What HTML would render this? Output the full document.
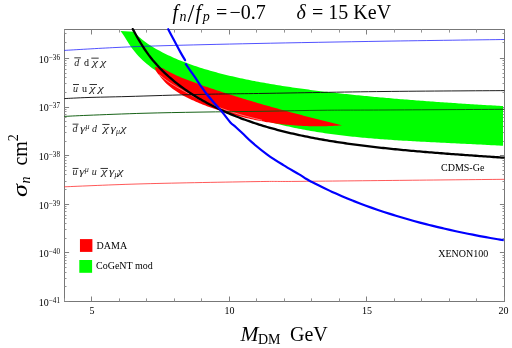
<!DOCTYPE html>
<html><head><meta charset="utf-8"><title>plot</title>
<style>
html,body{margin:0;padding:0;background:#fff;}
body{width:512px;height:348px;position:relative;overflow:hidden;font-family:"Liberation Serif",serif;}
</style></head><body>
<svg width="512" height="348" viewBox="0 0 512 348" style="position:absolute;left:0;top:0;will-change:transform">
<rect x="0" y="0" width="512" height="348" fill="#fff"/>
<g stroke="#777" stroke-width="1" fill="none" shape-rendering="auto">
<rect x="64.50" y="29.50" width="440.00" height="272.00"/>
</g>
<g stroke-width="1" fill="none">
<path stroke="#939393" d="M64.50 301.50 v-3.10 M64.50 29.50 v3.10"/>
<path stroke="#808080" d="M91.50 301.50 v-5.00 M91.50 29.50 v5.00"/>
<path stroke="#939393" d="M119.50 301.50 v-3.10 M119.50 29.50 v3.10"/>
<path stroke="#939393" d="M146.50 301.50 v-3.10 M146.50 29.50 v3.10"/>
<path stroke="#939393" d="M174.50 301.50 v-3.10 M174.50 29.50 v3.10"/>
<path stroke="#939393" d="M201.50 301.50 v-3.10 M201.50 29.50 v3.10"/>
<path stroke="#808080" d="M229.50 301.50 v-5.00 M229.50 29.50 v5.00"/>
<path stroke="#939393" d="M256.50 301.50 v-3.10 M256.50 29.50 v3.10"/>
<path stroke="#939393" d="M284.50 301.50 v-3.10 M284.50 29.50 v3.10"/>
<path stroke="#939393" d="M311.50 301.50 v-3.10 M311.50 29.50 v3.10"/>
<path stroke="#939393" d="M339.50 301.50 v-3.10 M339.50 29.50 v3.10"/>
<path stroke="#808080" d="M366.50 301.50 v-5.00 M366.50 29.50 v5.00"/>
<path stroke="#939393" d="M394.50 301.50 v-3.10 M394.50 29.50 v3.10"/>
<path stroke="#939393" d="M421.50 301.50 v-3.10 M421.50 29.50 v3.10"/>
<path stroke="#939393" d="M449.50 301.50 v-3.10 M449.50 29.50 v3.10"/>
<path stroke="#939393" d="M476.50 301.50 v-3.10 M476.50 29.50 v3.10"/>
<path stroke="#808080" d="M504.50 301.50 v-5.00 M504.50 29.50 v5.00"/>
<path stroke="#808080" d="M64.50 301.50 h4.60 M504.50 301.50 h-4.60"/>
<path stroke="#939393" d="M64.50 286.50 h2.00 M504.50 286.50 h-2.00"/>
<path stroke="#939393" d="M64.50 278.50 h2.00 M504.50 278.50 h-2.00"/>
<path stroke="#939393" d="M64.50 272.50 h2.00 M504.50 272.50 h-2.00"/>
<path stroke="#939393" d="M64.50 267.50 h2.00 M504.50 267.50 h-2.00"/>
<path stroke="#939393" d="M64.50 263.50 h2.00 M504.50 263.50 h-2.00"/>
<path stroke="#939393" d="M64.50 260.50 h2.00 M504.50 260.50 h-2.00"/>
<path stroke="#939393" d="M64.50 257.50 h2.00 M504.50 257.50 h-2.00"/>
<path stroke="#939393" d="M64.50 255.50 h2.00 M504.50 255.50 h-2.00"/>
<path stroke="#808080" d="M64.50 252.50 h4.60 M504.50 252.50 h-4.60"/>
<path stroke="#939393" d="M64.50 238.50 h2.00 M504.50 238.50 h-2.00"/>
<path stroke="#939393" d="M64.50 229.50 h2.00 M504.50 229.50 h-2.00"/>
<path stroke="#939393" d="M64.50 223.50 h2.00 M504.50 223.50 h-2.00"/>
<path stroke="#939393" d="M64.50 218.50 h2.00 M504.50 218.50 h-2.00"/>
<path stroke="#939393" d="M64.50 215.50 h2.00 M504.50 215.50 h-2.00"/>
<path stroke="#939393" d="M64.50 211.50 h2.00 M504.50 211.50 h-2.00"/>
<path stroke="#939393" d="M64.50 208.50 h2.00 M504.50 208.50 h-2.00"/>
<path stroke="#939393" d="M64.50 206.50 h2.00 M504.50 206.50 h-2.00"/>
<path stroke="#808080" d="M64.50 204.50 h4.60 M504.50 204.50 h-4.60"/>
<path stroke="#939393" d="M64.50 189.50 h2.00 M504.50 189.50 h-2.00"/>
<path stroke="#939393" d="M64.50 181.50 h2.00 M504.50 181.50 h-2.00"/>
<path stroke="#939393" d="M64.50 174.50 h2.00 M504.50 174.50 h-2.00"/>
<path stroke="#939393" d="M64.50 170.50 h2.00 M504.50 170.50 h-2.00"/>
<path stroke="#939393" d="M64.50 166.50 h2.00 M504.50 166.50 h-2.00"/>
<path stroke="#939393" d="M64.50 163.50 h2.00 M504.50 163.50 h-2.00"/>
<path stroke="#939393" d="M64.50 160.50 h2.00 M504.50 160.50 h-2.00"/>
<path stroke="#939393" d="M64.50 157.50 h2.00 M504.50 157.50 h-2.00"/>
<path stroke="#808080" d="M64.50 155.50 h4.60 M504.50 155.50 h-4.60"/>
<path stroke="#939393" d="M64.50 141.50 h2.00 M504.50 141.50 h-2.00"/>
<path stroke="#939393" d="M64.50 132.50 h2.00 M504.50 132.50 h-2.00"/>
<path stroke="#939393" d="M64.50 126.50 h2.00 M504.50 126.50 h-2.00"/>
<path stroke="#939393" d="M64.50 121.50 h2.00 M504.50 121.50 h-2.00"/>
<path stroke="#939393" d="M64.50 117.50 h2.00 M504.50 117.50 h-2.00"/>
<path stroke="#939393" d="M64.50 114.50 h2.00 M504.50 114.50 h-2.00"/>
<path stroke="#939393" d="M64.50 111.50 h2.00 M504.50 111.50 h-2.00"/>
<path stroke="#939393" d="M64.50 109.50 h2.00 M504.50 109.50 h-2.00"/>
<path stroke="#808080" d="M64.50 107.50 h4.60 M504.50 107.50 h-4.60"/>
<path stroke="#939393" d="M64.50 92.50 h2.00 M504.50 92.50 h-2.00"/>
<path stroke="#939393" d="M64.50 83.50 h2.00 M504.50 83.50 h-2.00"/>
<path stroke="#939393" d="M64.50 77.50 h2.00 M504.50 77.50 h-2.00"/>
<path stroke="#939393" d="M64.50 73.50 h2.00 M504.50 73.50 h-2.00"/>
<path stroke="#939393" d="M64.50 69.50 h2.00 M504.50 69.50 h-2.00"/>
<path stroke="#939393" d="M64.50 65.50 h2.00 M504.50 65.50 h-2.00"/>
<path stroke="#939393" d="M64.50 63.50 h2.00 M504.50 63.50 h-2.00"/>
<path stroke="#939393" d="M64.50 60.50 h2.00 M504.50 60.50 h-2.00"/>
<path stroke="#808080" d="M64.50 58.50 h4.60 M504.50 58.50 h-4.60"/>
<path stroke="#939393" d="M64.50 42.50 h2.00 M504.50 42.50 h-2.00"/>
<path stroke="#939393" d="M64.50 33.50 h2.00 M504.50 33.50 h-2.00"/>
</g>
<path d="M120.55 30.90 L134.00 31.66 L136.01 33.98 L138.01 35.99 L140.02 37.80 L142.02 39.47 L144.03 41.02 L146.03 42.49 L148.04 43.88 L150.04 45.21 L152.05 46.48 L154.05 47.71 L156.06 48.88 L158.07 50.02 L160.07 51.12 L162.08 52.18 L164.08 53.21 L166.09 54.21 L168.09 55.18 L170.10 56.12 L172.10 57.04 L174.11 57.93 L176.11 58.80 L178.12 59.64 L180.12 60.46 L182.13 61.26 L184.14 62.04 L186.14 62.80 L188.15 63.54 L190.15 64.27 L192.16 64.98 L194.16 65.67 L196.17 66.34 L198.17 67.00 L200.18 67.65 L202.18 68.28 L204.19 68.90 L206.20 69.50 L208.20 70.10 L210.21 70.68 L212.21 71.25 L214.22 71.80 L216.22 72.35 L218.23 72.88 L220.23 73.41 L222.24 73.92 L224.24 74.43 L226.25 74.92 L228.26 75.41 L230.26 75.89 L232.27 76.36 L234.27 76.82 L236.28 77.27 L238.28 77.72 L240.29 78.15 L242.29 78.58 L244.30 79.00 L246.30 79.42 L248.31 79.83 L250.32 80.23 L252.32 80.63 L254.33 81.01 L256.33 81.40 L258.34 81.77 L260.34 82.14 L262.35 82.51 L264.35 82.87 L266.36 83.22 L268.36 83.57 L270.37 83.92 L272.38 84.26 L274.38 84.59 L276.39 84.92 L278.39 85.24 L280.40 85.56 L282.40 85.88 L284.41 86.19 L286.41 86.50 L288.42 86.80 L290.42 87.10 L292.43 87.39 L294.43 87.68 L296.44 87.97 L298.45 88.25 L300.45 88.53 L302.46 88.81 L304.46 89.08 L306.47 89.35 L308.47 89.61 L310.48 89.88 L312.48 90.13 L314.49 90.39 L316.49 90.64 L318.50 90.89 L320.51 91.14 L322.51 91.38 L324.52 91.63 L326.52 91.86 L328.53 92.10 L330.53 92.33 L332.54 92.56 L334.54 92.79 L336.55 93.02 L338.55 93.24 L340.56 93.46 L342.57 93.68 L344.57 93.89 L346.58 94.11 L348.58 94.32 L350.59 94.53 L352.59 94.73 L354.60 94.94 L356.60 95.14 L358.61 95.34 L360.61 95.54 L362.62 95.74 L364.62 95.93 L366.63 96.12 L368.64 96.31 L370.64 96.50 L372.65 96.69 L374.65 96.88 L376.66 97.06 L378.66 97.24 L380.67 97.42 L382.67 97.60 L384.68 97.78 L386.68 97.95 L388.69 98.12 L390.70 98.30 L392.70 98.47 L394.71 98.64 L396.71 98.80 L398.72 98.97 L400.72 99.14 L402.73 99.30 L404.73 99.46 L406.74 99.62 L408.74 99.78 L410.75 99.94 L412.76 100.09 L414.76 100.25 L416.77 100.40 L418.77 100.56 L420.78 100.71 L422.78 100.86 L424.79 101.01 L426.79 101.16 L428.80 101.30 L430.80 101.45 L432.81 101.59 L434.82 101.74 L436.82 101.88 L438.83 102.02 L440.83 102.16 L442.84 102.30 L444.84 102.44 L446.85 102.58 L448.85 102.71 L450.86 102.85 L452.86 102.98 L454.87 103.11 L456.88 103.25 L458.88 103.38 L460.89 103.51 L462.89 103.64 L464.90 103.77 L466.90 103.90 L468.91 104.02 L470.91 104.15 L472.92 104.27 L474.92 104.40 L476.93 104.52 L478.93 104.65 L480.94 104.77 L482.95 104.89 L484.95 105.01 L486.96 105.13 L488.96 105.25 L490.97 105.37 L492.97 105.49 L494.98 105.60 L496.98 105.72 L498.99 105.83 L500.99 105.95 L503.00 106.06 L503.00 145.82 L501.00 145.71 L499.00 145.59 L496.99 145.48 L494.99 145.37 L492.99 145.26 L490.99 145.15 L488.98 145.04 L486.98 144.93 L484.98 144.83 L482.98 144.73 L480.97 144.62 L478.97 144.52 L476.97 144.42 L474.97 144.32 L472.96 144.22 L470.96 144.12 L468.96 144.02 L466.96 143.92 L464.96 143.82 L462.95 143.73 L460.95 143.63 L458.95 143.53 L456.95 143.44 L454.94 143.34 L452.94 143.24 L450.94 143.15 L448.94 143.05 L446.93 142.95 L444.93 142.86 L442.93 142.76 L440.93 142.66 L438.92 142.57 L436.92 142.47 L434.92 142.37 L432.92 142.27 L430.92 142.17 L428.91 142.07 L426.91 141.97 L424.91 141.86 L422.91 141.76 L420.90 141.65 L418.90 141.55 L416.90 141.44 L414.90 141.33 L412.89 141.22 L410.89 141.10 L408.89 140.99 L406.89 140.87 L404.88 140.76 L402.88 140.63 L400.88 140.51 L398.88 140.39 L396.88 140.26 L394.87 140.13 L392.87 140.00 L390.87 139.86 L388.87 139.73 L386.86 139.59 L384.86 139.44 L382.86 139.30 L380.86 139.15 L378.85 138.99 L376.85 138.84 L374.85 138.68 L372.85 138.51 L370.84 138.34 L368.84 138.17 L366.84 138.00 L364.84 137.82 L362.84 137.63 L360.83 137.45 L358.83 137.25 L356.83 137.06 L354.83 136.85 L352.82 136.65 L350.82 136.44 L348.82 136.22 L346.82 136.00 L344.81 135.77 L342.81 135.53 L340.81 135.29 L338.81 135.05 L336.80 134.80 L334.80 134.54 L332.80 134.28 L330.80 134.01 L328.80 133.73 L326.79 133.45 L324.79 133.16 L322.79 132.86 L320.79 132.56 L318.78 132.25 L316.78 131.93 L314.78 131.60 L312.78 131.27 L310.77 130.93 L308.77 130.58 L306.77 130.22 L304.77 129.85 L302.76 129.48 L300.76 129.10 L298.76 128.70 L296.76 128.30 L294.75 127.89 L292.75 127.47 L290.75 127.04 L288.75 126.61 L286.75 126.16 L284.74 125.70 L282.74 125.23 L280.74 124.76 L278.74 124.27 L276.73 123.77 L274.73 123.26 L272.73 122.74 L270.73 122.21 L268.72 121.67 L266.72 121.12 L264.72 120.55 L262.72 119.98 L260.71 119.39 L258.71 118.79 L256.71 118.18 L254.71 117.56 L252.71 116.93 L250.70 116.28 L248.70 115.63 L246.70 114.96 L244.70 114.27 L242.69 113.58 L240.69 112.87 L238.69 112.15 L236.69 111.42 L234.68 110.67 L232.68 109.92 L230.68 109.15 L228.68 108.36 L226.67 107.57 L224.67 106.76 L222.67 105.93 L220.67 105.10 L218.67 104.25 L216.66 103.39 L214.66 102.52 L212.66 101.63 L210.66 100.73 L208.65 99.82 L206.65 98.90 L204.65 97.96 L202.65 97.01 L200.64 96.04 L198.64 95.07 L196.64 94.08 L194.64 93.08 L192.63 92.07 L190.63 91.04 L188.63 90.00 L186.63 88.95 L184.63 87.89 L182.62 86.81 L180.62 85.72 L178.62 84.62 L176.62 83.50 L174.61 82.36 L172.61 81.21 L170.61 80.04 L168.61 78.86 L166.60 77.65 L164.60 76.42 L162.60 75.17 L160.60 73.89 L158.59 72.57 L156.59 71.22 L154.59 69.83 L152.59 68.39 L150.59 66.90 L148.58 65.34 L146.58 63.71 L144.58 61.99 L142.58 60.17 L140.57 58.23 L138.57 56.16 L136.57 53.94 L134.57 51.55 L132.56 48.96 L130.56 46.18 L128.56 43.19 L126.56 40.04 L124.55 36.80 L122.55 33.65 L120.55 30.95 Z" fill="#00ff00"/>
<path d="M154.75 66.90 L163.00 68.36 L165.01 69.60 L167.02 70.76 L169.03 71.84 L171.03 72.86 L173.04 73.84 L175.05 74.77 L177.06 75.67 L179.07 76.54 L181.08 77.39 L183.08 78.21 L185.09 79.01 L187.10 79.80 L189.11 80.57 L191.12 81.33 L193.13 82.08 L195.13 82.82 L197.14 83.55 L199.15 84.27 L201.16 84.98 L203.17 85.68 L205.18 86.38 L207.19 87.07 L209.19 87.76 L211.20 88.43 L213.21 89.11 L215.22 89.78 L217.23 90.44 L219.24 91.10 L221.24 91.75 L223.25 92.40 L225.26 93.05 L227.27 93.69 L229.28 94.33 L231.29 94.96 L233.29 95.59 L235.30 96.22 L237.31 96.84 L239.32 97.46 L241.33 98.08 L243.34 98.69 L245.35 99.30 L247.35 99.90 L249.36 100.51 L251.37 101.10 L253.38 101.70 L255.39 102.29 L257.40 102.88 L259.40 103.47 L261.41 104.05 L263.42 104.63 L265.43 105.21 L267.44 105.78 L269.45 106.36 L271.46 106.92 L273.46 107.49 L275.47 108.05 L277.48 108.61 L279.49 109.17 L281.50 109.72 L283.51 110.27 L285.51 110.82 L287.52 111.37 L289.53 111.91 L291.54 112.45 L293.55 112.99 L295.56 113.53 L297.56 114.06 L299.57 114.59 L301.58 115.12 L303.59 115.64 L305.60 116.17 L307.61 116.69 L309.62 117.20 L311.62 117.72 L313.63 118.23 L315.64 118.74 L317.65 119.25 L319.66 119.75 L321.67 120.26 L323.67 120.76 L325.68 121.26 L327.69 121.75 L329.70 122.25 L331.71 122.74 L333.72 123.23 L335.72 123.71 L337.73 124.20 L339.74 124.68 L341.90 125.40 L340.25 125.48 L338.75 125.58 L337.26 125.67 L335.76 125.76 L334.26 125.84 L332.76 125.91 L331.26 125.97 L329.77 126.03 L328.27 126.09 L326.77 126.13 L325.27 126.17 L323.77 126.20 L322.28 126.23 L320.78 126.24 L319.28 126.25 L317.78 126.26 L316.28 126.26 L314.79 126.25 L313.29 126.23 L311.79 126.21 L310.29 126.17 L308.79 126.14 L307.30 126.09 L305.80 126.04 L304.30 125.98 L302.80 125.91 L301.30 125.84 L299.81 125.76 L298.31 125.67 L296.81 125.58 L295.31 125.47 L293.81 125.36 L292.32 125.25 L290.82 125.12 L289.32 124.99 L287.82 124.85 L286.32 124.70 L284.83 124.55 L283.33 124.39 L281.83 124.22 L280.33 124.05 L278.83 123.86 L277.34 123.67 L275.84 123.47 L274.34 123.27 L272.84 123.05 L271.34 122.83 L269.85 122.61 L268.35 122.37 L266.85 122.13 L265.35 121.88 L263.85 121.62 L262.36 121.35 L260.86 121.08 L259.36 120.80 L257.86 120.51 L256.36 120.21 L254.87 119.91 L253.37 119.60 L251.87 119.28 L250.37 118.96 L248.88 118.62 L247.38 118.28 L245.88 117.93 L244.38 117.58 L242.88 117.21 L241.39 116.84 L239.89 116.46 L238.39 116.08 L236.89 115.68 L235.39 115.28 L233.90 114.87 L232.40 114.45 L230.90 114.03 L229.40 113.60 L227.90 113.16 L226.41 112.71 L224.91 112.25 L223.41 111.79 L221.91 111.32 L220.41 110.84 L218.92 110.35 L217.42 109.86 L215.92 109.35 L214.42 108.84 L212.92 108.32 L211.43 107.79 L209.93 107.25 L208.43 106.70 L206.93 106.14 L205.43 105.58 L203.94 105.00 L202.44 104.41 L200.94 103.81 L199.44 103.20 L197.94 102.58 L196.45 101.94 L194.95 101.29 L193.45 100.62 L191.95 99.94 L190.45 99.25 L188.96 98.53 L187.46 97.79 L185.96 97.03 L184.46 96.25 L182.96 95.44 L181.47 94.60 L179.97 93.73 L178.47 92.82 L176.97 91.87 L175.47 90.87 L173.98 89.83 L172.48 88.73 L170.98 87.57 L169.48 86.34 L167.98 85.02 L166.49 83.63 L164.99 82.14 L163.49 80.54 L161.99 78.84 L160.49 77.03 L159.00 75.12 L157.50 73.13 L156.00 71.12 Z" fill="#ff0000"/>
<path d="M159.20 74.80 C160.88 76.07 165.52 79.88 169.30 82.40 C173.08 84.92 178.95 88.18 181.90 89.90 C184.85 91.62 183.98 91.07 187.00 92.70 C190.02 94.33 195.17 97.40 200.00 99.70 C204.83 102.00 209.33 104.02 216.00 106.50 C222.67 108.98 232.33 112.30 240.00 114.60 C247.67 116.90 258.33 119.35 262.00 120.30" fill="none" stroke="#fff" stroke-width="0.55" opacity="0.85"/>
<path d="M64.40 50.40 C73.00 49.92 99.40 48.28 116.00 47.50 C132.60 46.72 140.67 46.37 164.00 45.70 C187.33 45.03 219.33 44.25 256.00 43.50 C292.67 42.75 342.60 41.87 384.00 41.20 C425.40 40.53 484.33 39.78 504.40 39.50" fill="none" stroke="#1818ff" stroke-width="0.75"/>
<path d="M64.40 98.60 C68.33 98.42 77.40 97.85 88.00 97.50 C98.60 97.15 109.33 97.02 128.00 96.50 C146.67 95.98 177.33 94.92 200.00 94.40 C222.67 93.88 233.33 93.88 264.00 93.40 C294.67 92.92 343.93 91.97 384.00 91.50 C424.07 91.03 484.33 90.75 504.40 90.60" fill="none" stroke="#111111" stroke-width="0.95"/>
<path d="M64.40 116.40 C68.33 116.22 74.73 115.83 88.00 115.30 C101.27 114.77 125.33 113.78 144.00 113.25 C162.67 112.72 180.00 112.43 200.00 112.10 C220.00 111.77 243.33 111.56 264.00 111.25 C284.67 110.94 304.00 110.46 324.00 110.25 C344.00 110.04 353.93 110.16 384.00 110.00 C414.07 109.84 484.33 109.42 504.40 109.30" fill="none" stroke="#0b5a0b" stroke-width="0.95"/>
<path d="M64.40 186.80 C77.67 186.30 112.07 184.67 144.00 183.80 C175.93 182.93 230.67 182.00 256.00 181.60 C281.33 181.20 271.00 181.62 296.00 181.40 C321.00 181.18 371.27 180.65 406.00 180.30 C440.73 179.95 488.00 179.47 504.40 179.30" fill="none" stroke="#ff2222" stroke-width="0.75"/>
<path d="M132.80 29.13 L134.80 32.82 L136.81 36.44 L138.81 39.93 L140.82 43.28 L142.82 46.46 L144.83 49.49 L146.83 52.36 L148.83 55.10 L150.84 57.70 L152.84 60.18 L154.85 62.56 L156.85 64.83 L158.86 67.01 L160.86 69.10 L162.86 71.12 L164.87 73.06 L166.87 74.93 L168.88 76.74 L170.88 78.49 L172.89 80.18 L174.89 81.83 L176.90 83.42 L178.90 84.97 L180.90 86.47 L182.91 87.94 L184.91 89.36 L186.92 90.75 L188.92 92.11 L190.93 93.42 L192.93 94.71 L194.93 95.97 L196.94 97.19 L198.94 98.39 L200.95 99.56 L202.95 100.70 L204.96 101.82 L206.96 102.91 L208.96 103.98 L210.97 105.02 L212.97 106.04 L214.98 107.04 L216.98 108.02 L218.99 108.98 L220.99 109.92 L222.99 110.84 L225.00 111.74 L227.00 112.62 L229.01 113.48 L231.01 114.33 L233.02 115.15 L235.02 115.97 L237.02 116.76 L239.03 117.54 L241.03 118.30 L243.04 119.05 L245.04 119.79 L247.05 120.51 L249.05 121.21 L251.06 121.90 L253.06 122.58 L255.06 123.25 L257.07 123.90 L259.07 124.54 L261.08 125.16 L263.08 125.78 L265.09 126.38 L267.09 126.98 L269.09 127.56 L271.10 128.13 L273.10 128.68 L275.11 129.23 L277.11 129.77 L279.12 130.30 L281.12 130.82 L283.12 131.32 L285.13 131.82 L287.13 132.31 L289.14 132.79 L291.14 133.27 L293.15 133.73 L295.15 134.18 L297.15 134.63 L299.16 135.07 L301.16 135.50 L303.17 135.92 L305.17 136.34 L307.18 136.74 L309.18 137.14 L311.18 137.54 L313.19 137.92 L315.19 138.30 L317.20 138.67 L319.20 139.04 L321.21 139.40 L323.21 139.75 L325.22 140.10 L327.22 140.44 L329.22 140.77 L331.23 141.10 L333.23 141.43 L335.24 141.74 L337.24 142.06 L339.25 142.36 L341.25 142.67 L343.25 142.96 L345.26 143.26 L347.26 143.54 L349.27 143.83 L351.27 144.10 L353.28 144.38 L355.28 144.65 L357.28 144.91 L359.29 145.17 L361.29 145.43 L363.30 145.68 L365.30 145.93 L367.31 146.18 L369.31 146.42 L371.31 146.65 L373.32 146.89 L375.32 147.12 L377.33 147.35 L379.33 147.57 L381.34 147.79 L383.34 148.01 L385.34 148.22 L387.35 148.43 L389.35 148.64 L391.36 148.85 L393.36 149.05 L395.37 149.25 L397.37 149.45 L399.38 149.65 L401.38 149.84 L403.38 150.03 L405.39 150.22 L407.39 150.40 L409.40 150.58 L411.40 150.77 L413.41 150.95 L415.41 151.12 L417.41 151.30 L419.42 151.47 L421.42 151.64 L423.43 151.81 L425.43 151.98 L427.44 152.15 L429.44 152.31 L431.44 152.47 L433.45 152.63 L435.45 152.79 L437.46 152.95 L439.46 153.11 L441.47 153.27 L443.47 153.42 L445.47 153.57 L447.48 153.73 L449.48 153.88 L451.49 154.03 L453.49 154.17 L455.50 154.32 L457.50 154.47 L459.50 154.62 L461.51 154.76 L463.51 154.90 L465.52 155.05 L467.52 155.19 L469.53 155.33 L471.53 155.47 L473.54 155.61 L475.54 155.75 L477.54 155.89 L479.55 156.03 L481.55 156.17 L483.56 156.31 L485.56 156.45 L487.57 156.58 L489.57 156.72 L491.57 156.86 L493.58 156.99 L495.58 157.13 L497.59 157.26 L499.59 157.40 L501.60 157.54 L503.60 157.67" fill="none" stroke="#000" stroke-width="2.3" stroke-linecap="round" stroke-linejoin="round"/>
<path d="M168.20 29.20 C169.33 31.33 172.95 38.13 175.00 42.00 C177.05 45.87 178.82 49.37 180.50 52.40 C182.18 55.43 184.33 58.90 185.10 60.20" fill="none" stroke="#0000ff" stroke-width="2.2" stroke-linecap="round"/>
<path d="M185.30 63.40 C186.85 65.62 192.05 73.00 194.60 76.70 C197.15 80.40 198.57 82.67 200.60 85.60 C202.63 88.53 204.20 91.03 206.80 94.30 C209.40 97.57 213.53 102.12 216.20 105.20 C218.87 108.28 220.43 109.93 222.80 112.80 C225.17 115.67 228.20 120.00 230.40 122.40 C232.60 124.80 233.90 125.30 236.00 127.20 C238.10 129.10 240.37 131.30 243.00 133.80 C245.63 136.30 247.70 138.70 251.80 142.20 C255.90 145.70 262.33 150.98 267.60 154.80 C272.87 158.62 278.13 161.83 283.40 165.10 C288.67 168.37 295.43 172.11 299.20 174.40 C302.97 176.69 303.87 177.54 306.00 178.81 C308.13 180.08 310.00 180.97 311.99 182.02 C313.99 183.07 315.99 184.09 317.99 185.09 C319.99 186.10 321.98 187.08 323.98 188.04 C325.98 189.00 327.98 189.94 329.98 190.87 C331.97 191.79 333.97 192.70 335.97 193.59 C337.97 194.47 339.97 195.34 341.96 196.20 C343.96 197.05 345.96 197.89 347.96 198.71 C349.96 199.53 351.95 200.33 353.95 201.12 C355.95 201.91 357.95 202.69 359.95 203.45 C361.94 204.21 363.94 204.95 365.94 205.69 C367.94 206.42 369.94 207.14 371.93 207.85 C373.93 208.55 375.93 209.24 377.93 209.93 C379.93 210.61 381.92 211.27 383.92 211.93 C385.92 212.59 387.92 213.23 389.92 213.86 C391.91 214.50 393.91 215.12 395.91 215.73 C397.91 216.34 399.91 216.94 401.90 217.53 C403.90 218.12 405.90 218.70 407.90 219.27 C409.89 219.84 411.89 220.40 413.89 220.95 C415.89 221.50 417.89 222.04 419.88 222.57 C421.88 223.10 423.88 223.62 425.88 224.14 C427.88 224.65 429.87 225.15 431.87 225.65 C433.87 226.14 435.87 226.63 437.87 227.11 C439.86 227.59 441.86 228.06 443.86 228.52 C445.86 228.98 447.86 229.44 449.85 229.89 C451.85 230.33 453.85 230.77 455.85 231.20 C457.85 231.64 459.84 232.06 461.84 232.48 C463.84 232.90 465.84 233.31 467.84 233.71 C469.83 234.11 471.83 234.51 473.83 234.90 C475.83 235.29 477.83 235.67 479.82 236.05 C481.82 236.43 483.82 236.80 485.82 237.16 C487.82 237.52 489.81 237.88 491.81 238.23 C493.81 238.59 495.81 238.93 497.81 239.27 C499.80 239.61 502.80 240.11 503.80 240.27" fill="none" stroke="#0000ff" stroke-width="2.2" stroke-linejoin="round"/>
<g font-family="'Liberation Serif', serif" fill="#000">
<text x="38.8" y="305.75" font-size="10">10</text>
<text x="48.8" y="302.75" font-size="7.6" textLength="11.2" lengthAdjust="spacingAndGlyphs">−41</text>
<text x="38.8" y="257.13" font-size="10">10</text>
<text x="48.8" y="254.13" font-size="7.6" textLength="11.2" lengthAdjust="spacingAndGlyphs">−40</text>
<text x="38.8" y="208.51" font-size="10">10</text>
<text x="48.8" y="205.51" font-size="7.6" textLength="11.2" lengthAdjust="spacingAndGlyphs">−39</text>
<text x="38.8" y="159.89" font-size="10">10</text>
<text x="48.8" y="156.89" font-size="7.6" textLength="11.2" lengthAdjust="spacingAndGlyphs">−38</text>
<text x="38.8" y="111.27" font-size="10">10</text>
<text x="48.8" y="108.27" font-size="7.6" textLength="11.2" lengthAdjust="spacingAndGlyphs">−37</text>
<text x="38.8" y="62.65" font-size="10">10</text>
<text x="48.8" y="59.65" font-size="7.6" textLength="11.2" lengthAdjust="spacingAndGlyphs">−36</text>
<text x="92.00" y="313.7" font-size="10" text-anchor="middle">5</text>
<text x="229.50" y="313.7" font-size="10" text-anchor="middle">10</text>
<text x="367.00" y="313.7" font-size="10" text-anchor="middle">15</text>
<text x="503.50" y="313.7" font-size="10" text-anchor="middle">20</text>
<rect x="79.95" y="239.1" width="12.45" height="12.8" fill="#ff0000"/>
<rect x="79.3" y="260" width="12.8" height="12.8" fill="#00ff00"/>
<text x="96.6" y="248.5" font-size="10">DAMA</text>
<text x="96" y="268.7" font-size="10">CoGeNT mod</text>
<text x="441" y="170.7" font-size="10">CDMS-Ge</text>
<text x="438.2" y="256.5" font-size="10">XENON100</text>
<text x="172.5" y="19" font-size="20" font-style="italic">f</text>
<text x="179.5" y="20.5" font-size="14" font-style="italic">n</text>
<text x="187.4" y="21.6" font-size="25">/</text>
<text x="195.6" y="19" font-size="20" font-style="italic">f</text>
<text x="202.8" y="20.5" font-size="14" font-style="italic">p</text>
<text x="216.1" y="19" font-size="20">=</text>
<text x="229.4" y="19" font-size="20">−0.7</text>
<text x="296.5" y="19" font-size="20" font-style="italic">δ</text>
<text x="312.1" y="19" font-size="20">= 15 KeV</text>
<text x="0" y="0" font-size="20" font-style="italic" transform="translate(240.5,341.1) scale(1.08,1)">M</text>
<text x="258" y="344.4" font-size="14">DM</text>
<text x="290" y="341.1" font-size="20">GeV</text>
<g transform="translate(27,197) rotate(-90)">
<text x="0" y="0" font-size="20" font-style="italic" transform="scale(1.3,1)">σ</text>
<text x="13.5" y="2.9" font-size="14" font-style="italic">n</text>
<text x="31.4" y="0" font-size="20">cm</text>
<text x="55.7" y="-9" font-size="14">2</text>
</g>
<text transform="translate(74.20,65.50) scale(1.000,1)" font-size="10" font-style="italic" fill="#1c1c1c">d</text>
<path d="M74.30 57.85 H80.90" stroke="#000" stroke-width="0.8" fill="none"/>
<text x="84.00" y="65.50" font-size="10">d</text>
<text transform="translate(92.30,65.50) scale(1.180,1)" font-size="10.9" font-style="italic" fill="#1c1c1c">χ</text>
<path d="M91.30 58.15 H98.70" stroke="#000" stroke-width="0.8" fill="none"/>
<text transform="translate(100.40,65.50) scale(1.180,1)" font-size="10.9" font-style="italic" fill="#1c1c1c">χ</text>
<text transform="translate(73.00,91.50) scale(1.000,1)" font-size="10" font-style="italic" fill="#1c1c1c">u</text>
<path d="M73.00 84.50 H79.00" stroke="#000" stroke-width="0.8" fill="none"/>
<text x="82.10" y="91.50" font-size="10">u</text>
<text transform="translate(89.80,91.50) scale(1.180,1)" font-size="10.9" font-style="italic" fill="#1c1c1c">χ</text>
<path d="M89.50 84.50 H97.00" stroke="#000" stroke-width="0.8" fill="none"/>
<text transform="translate(97.90,91.50) scale(1.180,1)" font-size="10.9" font-style="italic" fill="#1c1c1c">χ</text>
<text transform="translate(72.60,132.00) scale(1.000,1)" font-size="10" font-style="italic" fill="#1c1c1c">d</text>
<path d="M72.60 124.15 H78.50" stroke="#000" stroke-width="0.8" fill="none"/>
<text transform="translate(80.10,132.00) scale(1.220,1)" font-size="11" font-style="italic" fill="#1c1c1c">γ</text>
<text transform="translate(85.50,128.70) scale(1.000,1)" font-size="8" font-style="italic" fill="#1c1c1c">μ</text>
<text transform="translate(92.10,132.00) scale(1.000,1)" font-size="10" font-style="italic" fill="#1c1c1c">d</text>
<text transform="translate(103.10,132.00) scale(1.180,1)" font-size="10.9" font-style="italic" fill="#1c1c1c">χ</text>
<path d="M102.30 124.45 H109.50" stroke="#000" stroke-width="0.8" fill="none"/>
<text transform="translate(110.60,132.00) scale(1.220,1)" font-size="11" font-style="italic" fill="#1c1c1c">γ</text>
<text transform="translate(116.00,134.00) scale(1.000,1)" font-size="8" font-style="italic" fill="#1c1c1c">μ</text>
<text transform="translate(120.80,132.00) scale(1.180,1)" font-size="10.9" font-style="italic" fill="#1c1c1c">χ</text>
<text transform="translate(72.60,174.90) scale(1.000,1)" font-size="10" font-style="italic" fill="#1c1c1c">u</text>
<path d="M72.60 168.45 H78.50" stroke="#000" stroke-width="0.8" fill="none"/>
<text transform="translate(79.30,174.90) scale(1.220,1)" font-size="11" font-style="italic" fill="#1c1c1c">γ</text>
<text transform="translate(84.70,171.60) scale(1.000,1)" font-size="8" font-style="italic" fill="#1c1c1c">μ</text>
<text transform="translate(91.80,174.90) scale(1.000,1)" font-size="10" font-style="italic" fill="#1c1c1c">u</text>
<text transform="translate(101.50,174.90) scale(1.180,1)" font-size="10.9" font-style="italic" fill="#1c1c1c">χ</text>
<path d="M100.50 168.45 H108.00" stroke="#000" stroke-width="0.8" fill="none"/>
<text transform="translate(109.00,174.90) scale(1.220,1)" font-size="11" font-style="italic" fill="#1c1c1c">γ</text>
<text transform="translate(114.40,176.90) scale(1.000,1)" font-size="8" font-style="italic" fill="#1c1c1c">μ</text>
<text transform="translate(117.80,174.90) scale(1.180,1)" font-size="10.9" font-style="italic" fill="#1c1c1c">χ</text>
</g>
</svg>
</body></html>
